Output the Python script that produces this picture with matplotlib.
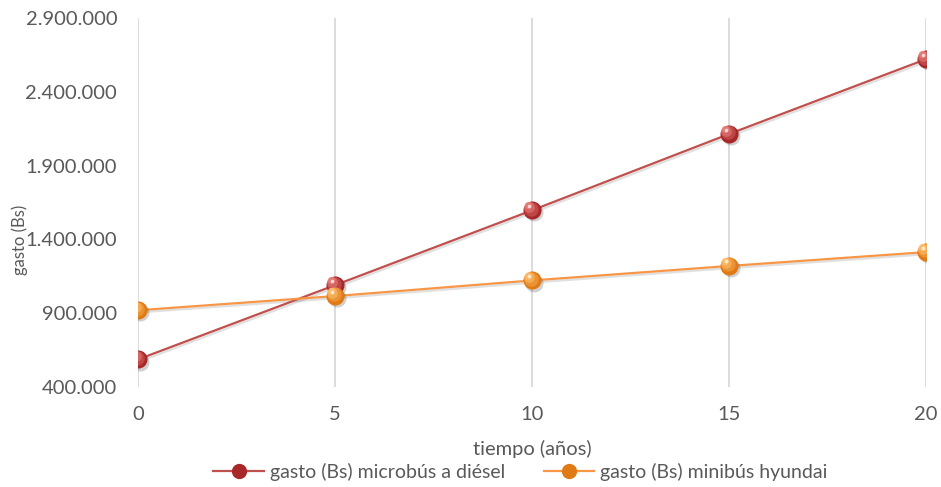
import matplotlib
matplotlib.use("Agg")
import matplotlib.pyplot as plt
import matplotlib.transforms as mtransforms
from matplotlib.ticker import FuncFormatter
import numpy as np

plt.rcParams['font.family'] = ['Lato', 'DejaVu Sans']

tiempo = [0, 5, 10, 15, 20]
gasto_diesel = [587000, 1090000, 1597000, 2114000, 2621000]
gasto_hyundai = [920000, 1016000, 1122000, 1220000, 1314000]

series = [
    ("gasto (Bs) microbús a diésel", gasto_diesel, "#C0504D", "#A8282A", "#E9807C"),
    ("gasto (Bs) minibús hyundai", gasto_hyundai, "#F79646", "#E07A14", "#FFC070"),
]

fig = plt.figure(figsize=(9.41, 4.87), dpi=100)
ax = fig.add_axes([0.1467, 0.2053, 0.8373, 0.7577])


def sphere(ax, x, y, base, light, size=13, z=5):
    # fake 3D shading: stacked circles shifted toward the upper left
    shadow = mtransforms.offset_copy(ax.transData, fig=fig, x=1.2, y=-1.5, units='points')
    ax.plot(x, y, 'o', ms=size, color='#000000', alpha=0.18, mew=0, transform=shadow, zorder=z)
    ax.plot(x, y, 'o', ms=size, color=base, mew=0, zorder=z + 0.1)
    steps = [(0.8, 0.35), (0.6, 0.55), (0.4, 0.75)]
    for k, (f, a) in enumerate(steps):
        off = mtransforms.offset_copy(ax.transData, fig=fig,
                                      x=-size * (1 - f) * 0.35, y=size * (1 - f) * 0.45,
                                      units='points')
        ax.plot(x, y, 'o', ms=size * f, color=light, alpha=a, mew=0,
                transform=off, zorder=z + 0.2 + k * 0.1)
    hi = mtransforms.offset_copy(ax.transData, fig=fig, x=-size * 0.18, y=size * 0.25, units='points')
    ax.plot(x, y, 'o', ms=size * 0.2, color='white', alpha=0.7, mew=0, transform=hi, zorder=z + 0.6)


handles = []
for label, vals, line_c, base_c, light_c in series:
    sh = mtransforms.offset_copy(ax.transData, fig=fig, x=1, y=-1.5, units='points')
    ax.plot(tiempo, vals, color='#000000', lw=1.6, alpha=0.12, transform=sh, zorder=3)
    ax.plot(tiempo, vals, color=line_c, lw=1.6, zorder=4)
    sphere(ax, tiempo, vals, base_c, light_c)
    h, = ax.plot([], [], color=line_c, lw=1.6, marker='o', ms=11,
                 markerfacecolor=base_c, markeredgewidth=0, label=label)
    handles.append(h)

ax.set_xlim(0, 20)
ax.set_ylim(400000, 2900000)
ax.set_xticks(tiempo)
ax.set_yticks(np.arange(400000, 2900001, 500000))
ax.yaxis.set_major_formatter(FuncFormatter(lambda v, p: f"{int(v):,}".replace(",", ".")))
ax.grid(axis='x', color='#D9D9D9', lw=1.3)
ax.set_axisbelow(True)
for s in ax.spines.values():
    s.set_visible(False)
ax.tick_params(length=0, labelsize=14.5, labelcolor='#595959')
ax.tick_params(axis='x', pad=14)
ax.tick_params(axis='y', pad=15)

ax.set_xlabel("tiempo (años)", fontsize=14.5, color='#595959', labelpad=12)
fig.text(0.021, 0.507, "gasto (Bs)", rotation=90, fontsize=12, color='#595959',
         ha='center', va='center')

fig.legend(handles=handles, loc='center', bbox_to_anchor=(0.553, 0.031), ncol=2,
           frameon=False, fontsize=14, labelcolor='#595959', handlelength=2.6,
           handletextpad=0.3, columnspacing=2.0)

fig.savefig("out.png", dpi=100)
